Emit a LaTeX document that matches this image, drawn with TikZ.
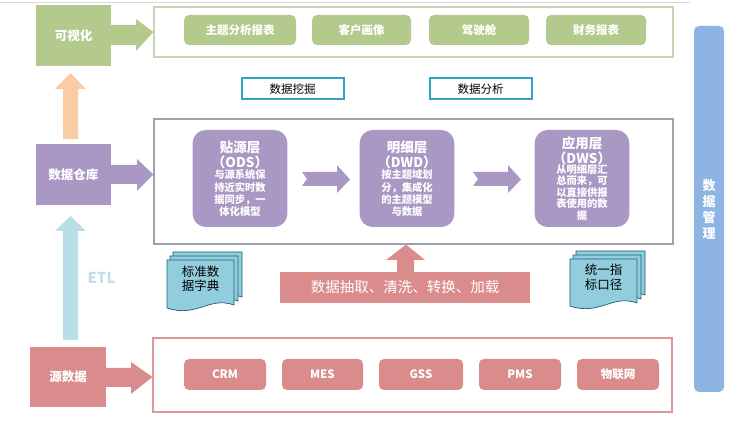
\documentclass[tikz,border=0pt]{standalone}
\usepackage{fontspec}
\setmainfont{Noto Sans CJK SC}
\usetikzlibrary{positioning,calc}
\definecolor{cgreen}{RGB}{180,201,140}
\definecolor{cgreenb}{RGB}{200,212,180}
\definecolor{cpurple}{RGB}{170,152,196}
\definecolor{cpurpleb}{RGB}{160,160,175}
\definecolor{cpink}{RGB}{218,140,140}
\definecolor{cpinkb}{RGB}{222,150,155}
\definecolor{cpeach}{RGB}{250,204,166}
\definecolor{cltblue}{RGB}{184,222,232}
\definecolor{cetl}{RGB}{196,222,230}
\definecolor{cbar}{RGB}{141,180,226}
\definecolor{cteal}{RGB}{50,160,200}
\definecolor{cdoc}{RGB}{146,205,222}
\definecolor{cdocb}{RGB}{30,95,115}
\tikzset{
  side/.style={draw=none,fill=#1,text=white,font=\bfseries\fontsize{12.5}{14}\selectfont},
  frame/.style={draw=#1,line width=1.2pt,fill=none},
  tag/.style={draw=none,fill=#1,rounded corners=5pt,text=white,font=\bfseries\fontsize{11.5}{13}\selectfont},
  layer/.style={draw=none,fill=cpurple,rounded corners=13pt,text=white,align=center},
  tagbox/.style={draw=cteal,line width=2pt,fill=white,text=black,font=\fontsize{11.5}{13}\selectfont},
  docfill/.style={fill=cdoc,draw=cdocb,line width=0.7pt},
}
\newcommand{\mydocshape}[4]{% l t r b
  \path[docfill] (#1,#2) -- (#3,#2) -- (#3,#4-5) .. controls (#3-25,#4-14) and (#1+30,#4+8) .. (#1,#4-2) -- cycle;
}
\newcommand{\mytl}{\fontsize{13.5}{15.5}\selectfont\bfseries}
\newcommand{\mysl}{\fontsize{10.3}{12.2}\selectfont\bfseries}
\begin{document}
\begin{tikzpicture}[x=1pt,y=-1pt]
\useasboundingbox (0,0) rectangle (732,427);
\fill[white] (0,0) rectangle (732,427);
\draw[gray!30,line width=0.8pt] (0,2) -- (690,2);

% ---- left column ----
\node[side=cgreen,minimum width=75pt,minimum height=61pt] (vis) at (73.5,35.5) {可视化};
\node[side=cpurple,minimum width=75pt,minimum height=61pt] (dw) at (73.5,174.5) {数据仓库};
\node[side=cpink,minimum width=76pt,minimum height=60pt] (src) at (68,377) {源数据};

% ---- frames ----
\node[frame=cgreenb,minimum width=519pt,minimum height=50pt] (vframe) at (413.5,32) {};
\node[frame=cpurpleb,minimum width=519pt,minimum height=125pt] (dframe) at (413.5,181.5) {};
\node[frame=cpinkb,minimum width=519pt,minimum height=74pt] (sframe) at (412.5,375) {};

% ---- side arrows to frames ----
\fill[cgreen] (vis.east |- 0,25) -- (136,25) -- (136,19) -- (vframe.west) -- (136,51) -- (136,45) -- (vis.east |- 0,45) -- cycle;
\fill[cpurple] (dw.east |- 0,165) -- (137,165) -- (137,159) -- (dframe.west |- dw.east) -- (137,191) -- (137,184) -- (dw.east |- 0,184) -- cycle;
\fill[cpink] (src.east |- 0,368) -- (131,368) -- (131,362) -- (sframe.west |- src.east) -- (131,394) -- (131,387) -- (src.east |- 0,387) -- cycle;

% ---- vertical arrows ----
\fill[cpeach] (63,139) -- (63,89) -- (55,89) -- (70.5,73) -- (86,89) -- (78,89) -- (78,139) -- cycle;
\fill[cltblue] (63,340) -- (63,231) -- (55,231) -- (70.5,216) -- (86,231) -- (78,231) -- (78,340) -- cycle;
\node[text=cetl,font=\bfseries\fontsize{15}{17}\selectfont,anchor=west] (etl) at (84,278) {ETL};

% ---- top tags ----
\node[tag=cgreen,minimum width=112pt,minimum height=30pt] (t1) at (240,30) {主题分析报表};
\node[tag=cgreen,minimum width=99pt,minimum height=30pt] (t2) at (361.5,30) {客户画像};
\node[tag=cgreen,minimum width=100pt,minimum height=30pt] (t3) at (479,30) {驾驶舱};
\node[tag=cgreen,minimum width=100pt,minimum height=30pt] (t4) at (596,30) {财务报表};

\node[tagbox,minimum width=102pt,minimum height=21pt] (mine) at (292.5,89) {数据挖掘};
\node[tagbox,minimum width=102pt,minimum height=21pt] (ana) at (480.5,89) {数据分析};

% ---- layers ----
\node[layer,minimum width=90pt,minimum height=97pt,text width=88pt] (ods) at (240,178.5)
 {\mytl 贴源层\\\mytl （ODS）\\[-1pt]\mysl 与源系统保\\\mysl 持近实时数\\\mysl 据同步，一\\\mysl 体化模型};
\node[layer,minimum width=90pt,minimum height=97pt,text width=88pt] (dwd) at (407,178.5)
 {\mytl 明细层\\\mytl （DWD）\\[-1pt]\mysl 按主题域划\\\mysl 分，集成化\\\mysl 的主题模型\\\mysl 与数据};
\node[layer,minimum width=90pt,minimum height=97pt,text width=88pt] (dws) at (582,178.5)
 {\mytl 应用层\\\mytl （DWS）\\[-2pt]\fontsize{10.3}{11.4}\selectfont\bfseries 从明细层汇\\总而来，可\\以直接供报\\表使用的数\\据};

% notched arrows
\fill[cpurple] (302,172) -- (337,172) -- (337,165) -- (350,179.5) -- (337,193) -- (337,186) -- (302,186) -- (307,179) -- cycle;
\fill[cpurple] (473,172) -- (508,172) -- (508,165) -- (521,179.5) -- (508,193) -- (508,186) -- (473,186) -- (478,179) -- cycle;

% ---- ETL bar ----
\node[draw=none,fill=cpink,text=white,minimum width=250pt,minimum height=31pt,font=\fontsize{14.5}{16}\selectfont] (etlbar) at (405,287.5) {数据抽取、清洗、转换、加载};
\fill[cpink] (397,0 |- etlbar.north) -- (397,260) -- (386,260) -- (406,0 |- dframe.south) -- (425,260) -- (414,260) -- (414,0 |- etlbar.north) -- cycle;

% ---- documents ----
\mydocshape{173}{252}{242}{302}
\mydocshape{170}{256}{238}{306}
\mydocshape{167}{260}{234}{310}
\node[font=\fontsize{12.5}{14.5}\selectfont,align=center] (dict) at (200.5,279) {标准数\\据字典};
\mydocshape{576}{251}{645}{300}
\mydocshape{573}{255}{641}{304}
\mydocshape{570}{259}{637}{308}
\node[font=\fontsize{12.5}{14.5}\selectfont,align=center] (metric) at (603.5,277) {统一指\\标口径};

% ---- source tags ----
\node[tag=cpink,minimum width=82pt,minimum height=31pt] (s1) at (225,374.5) {CRM};
\node[tag=cpink,minimum width=81pt,minimum height=31pt] (s2) at (322.5,374.5) {MES};
\node[tag=cpink,minimum width=84pt,minimum height=31pt] (s3) at (421,374.5) {GSS};
\node[tag=cpink,minimum width=82pt,minimum height=31pt] (s4) at (520,374.5) {PMS};
\node[tag=cpink,minimum width=82pt,minimum height=31pt] (s5) at (618,374.5) {物联网};

% ---- data management bar ----
\node[draw=none,fill=cbar,rounded corners=5pt,minimum width=30pt,minimum height=366pt,text=white,align=center,font=\bfseries\fontsize{13}{16}\selectfont] (mgmt) at (709,209) {数\\据\\管\\理};
\end{tikzpicture}
\end{document}
